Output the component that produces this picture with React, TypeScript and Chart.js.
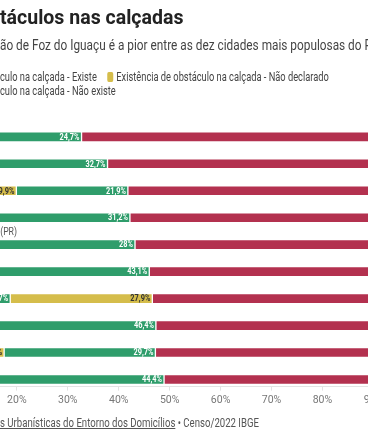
import React, { useEffect, useRef } from "react";
import { Chart, registerables } from "chart.js";

Chart.register(...registerables);

// ---- data ----
const cities = [
  "Curitiba (PR)",
  "Londrina (PR)",
  "Maringá (PR)",
  "Ponta Grossa (PR)",
  "São José dos Pinhais (PR)",
  "Cascavel (PR)",
  "Foz do Iguaçu (PR)",
  "Colombo (PR)",
  "Guarapuava (PR)",
  "Araucária (PR)",
];
const existe = [67.3, 62.2, 58.2, 57.8, 56.8, 54.0, 53.4, 52.7, 52.8, 51.1];
const naoDeclarado = [8.0, 5.1, 19.9, 11.0, 15.2, 2.9, 27.9, 0.9, 17.5, 4.5];
const naoExiste = [24.7, 32.7, 21.9, 31.2, 28, 43.1, 18.7, 46.4, 29.7, 44.4];
const seriesNames = [
  "Existência de obstáculo na calçada - Existe",
  "Existência de obstáculo na calçada - Não declarado",
  "Existência de obstáculo na calçada - Não existe",
];
const seriesColors = ["#b3314f", "#d5bd4b", "#2f9d6b"];
const xTickValues = [0, 10, 20, 30, 40, 50, 60, 70, 80, 90, 100];

const series = [existe, naoDeclarado, naoExiste];
const fmt = (v: number) => String(v).replace(".", ",") + "%";

// segments are stacked in ascending order inside every bar
const ranges: { x: [number, number]; y: number }[][] = series.map(() => []);
cities.forEach((_, i) => {
  const order = [0, 1, 2].sort((a, b) => series[a][i] - series[b][i]);
  let acc = 0;
  order.forEach((s) => {
    ranges[s][i] = { x: [acc, acc + series[s][i]], y: i };
    acc += series[s][i];
  });
});

const SX = 0.82;
const SX_LABEL = 0.79;

const labelPlugin = {
  id: "rowLabels",
  afterDatasetsDraw(chart: any) {
    const ctx = chart.ctx;
    const left = chart.chartArea.left;
    const yScale = chart.scales.y;
    ctx.save();
    ctx.font = "11px Roboto";
    ctx.fillStyle = "#555";
    ctx.textAlign = "left";
    ctx.textBaseline = "alphabetic";
    cities.forEach((c, i) => {
      const py = yScale.getPixelForValue(i) - 10;
      ctx.save();
      ctx.translate(left, py);
      ctx.scale(SX_LABEL, 1);
      ctx.fillText(c, 0, 0);
      ctx.restore();
    });
    chart.data.datasets.forEach((_: any, di: number) => {
      const meta = chart.getDatasetMeta(di);
      meta.data.forEach((bar: any, i: number) => {
        const txt = fmt(series[di][i]);
        const x1 = Math.max(bar.x, bar.base);
        const x0 = Math.min(bar.x, bar.base);
        ctx.font = "bold 9px Roboto";
        const w = ctx.measureText(txt).width * SX;
        if (w + 5 > x1 - x0) return;
        ctx.save();
        ctx.translate(x1 - 2, bar.y + 0.5);
        ctx.scale(SX, 1);
        ctx.textAlign = "right";
        ctx.textBaseline = "middle";
        ctx.fillStyle = di === 1 ? "#333" : "#fff";
        ctx.fillText(txt, 0, 0);
        ctx.restore();
      });
    });
    ctx.restore();
  },
};

function Marker({ color }: { color: string }) {
  return (
    <span
      style={{
        display: "inline-block",
        width: 8,
        height: 10,
        borderRadius: 2,
        background: color,
        marginRight: 4,
        verticalAlign: "-1px",
      }}
    />
  );
}

export default function App() {
  const ref = useRef<HTMLCanvasElement>(null);
  useEffect(() => {
    if (!ref.current) return;
    Chart.defaults.font.family = "Roboto";
    const chart = new Chart(ref.current, {
      type: "bar",
      data: {
        datasets: series.map((_, s) => ({
          label: seriesNames[s],
          data: ranges[s] as any,
          backgroundColor: seriesColors[s],
          borderColor: "rgba(255,255,255,0.55)",
          borderWidth: 1,
          borderSkipped: false,
          barThickness: 10,
        })),
      },
      options: {
        indexAxis: "y",
        animation: false,
        responsive: true,
        maintainAspectRatio: false,
        layout: { padding: { left: 15, right: 15, top: 123.35, bottom: 35.8 } },
        plugins: { legend: { display: false }, tooltip: { enabled: false } },
        scales: {
          y: {
            type: "linear",
            reverse: true,
            offset: false,
            min: -0.5,
            max: 9.264,
            stacked: true,
            display: false,
          },
          x: {
            type: "linear",
            min: 0,
            max: 100,
            stacked: false,
            offset: false,
            afterBuildTicks: (axis: any) => {
              axis.ticks = xTickValues.map((v) => ({ value: v }));
            },
            border: { display: true, color: "#e3e3e3" },
            grid: {
              drawOnChartArea: false,
              drawTicks: true,
              tickLength: 4,
              color: "#e3e3e3",
            },
            ticks: {
              padding: 3,
              color: "#777",
              font: { size: 10.5, family: '"Liberation Sans Narrow", Roboto' },
              callback: (v: any) => v + "%",
            },
          },
        },
      },
      plugins: [labelPlugin],
    });
    return () => chart.destroy();
  }, []);

  const hang: React.CSSProperties = {
    position: "absolute",
    right: "100%",
    whiteSpace: "nowrap",
  };
  const line = (top: number, size: number, extra: React.CSSProperties = {}): React.CSSProperties => ({
    position: "absolute",
    left: 0,
    top,
    fontSize: size,
    whiteSpace: "nowrap",
    transformOrigin: "left top",
    ...extra,
  });

  return (
    <div
      style={{
        position: "fixed",
        left: 0,
        top: 0,
        width: 368,
        height: 445,
        overflow: "hidden",
        background: "#fff",
        fontFamily: "Roboto, sans-serif",
      }}
    >
      <div style={{ position: "absolute", left: -100, top: 0, width: 540, height: 445 }}>
        <canvas ref={ref} />
      </div>
      <div
        style={line(5, 21, {
          fontWeight: 700,
          color: "#222",
          lineHeight: "24px",
          transform: "scaleX(0.93)",
        })}
      >
        <span style={hang}>Presença de obs</span>táculos nas calçadas
      </div>
      <div style={line(36, 14, { color: "#444", lineHeight: "18px", transform: "scaleX(0.845)" })}>
        <span style={hang}>A situaç</span>ão de Foz do Iguaçu é a pior entre as dez cidades mais populosas do Paraná
      </div>
      <div style={line(70, 12.4, { color: "#444", lineHeight: "14px", transform: "scaleX(0.75)" })}>
        <span style={hang}>
          <Marker color={seriesColors[0]} />
          Existência de obstá
        </span>
        culo na calçada - Existe
        <span style={{ marginLeft: 14 }}>
          <Marker color={seriesColors[1]} />
          {seriesNames[1]}
        </span>
      </div>
      <div style={line(84, 12.4, { color: "#444", lineHeight: "14px", transform: "scaleX(0.75)" })}>
        <span style={hang}>
          <Marker color={seriesColors[2]} />
          Existência de obstá
        </span>
        culo na calçada - Não existe
      </div>
      <div style={line(416, 12, { color: "#555", lineHeight: "14px", transform: "scaleX(0.8)" })}>
        <span style={{ textDecoration: "underline" }}>
          <span style={hang}>Fonte: Característica</span>s Urbanísticas do Entorno dos Domicílios
        </span>{" "}
        • Censo/2022 IBGE
      </div>
    </div>
  );
}
